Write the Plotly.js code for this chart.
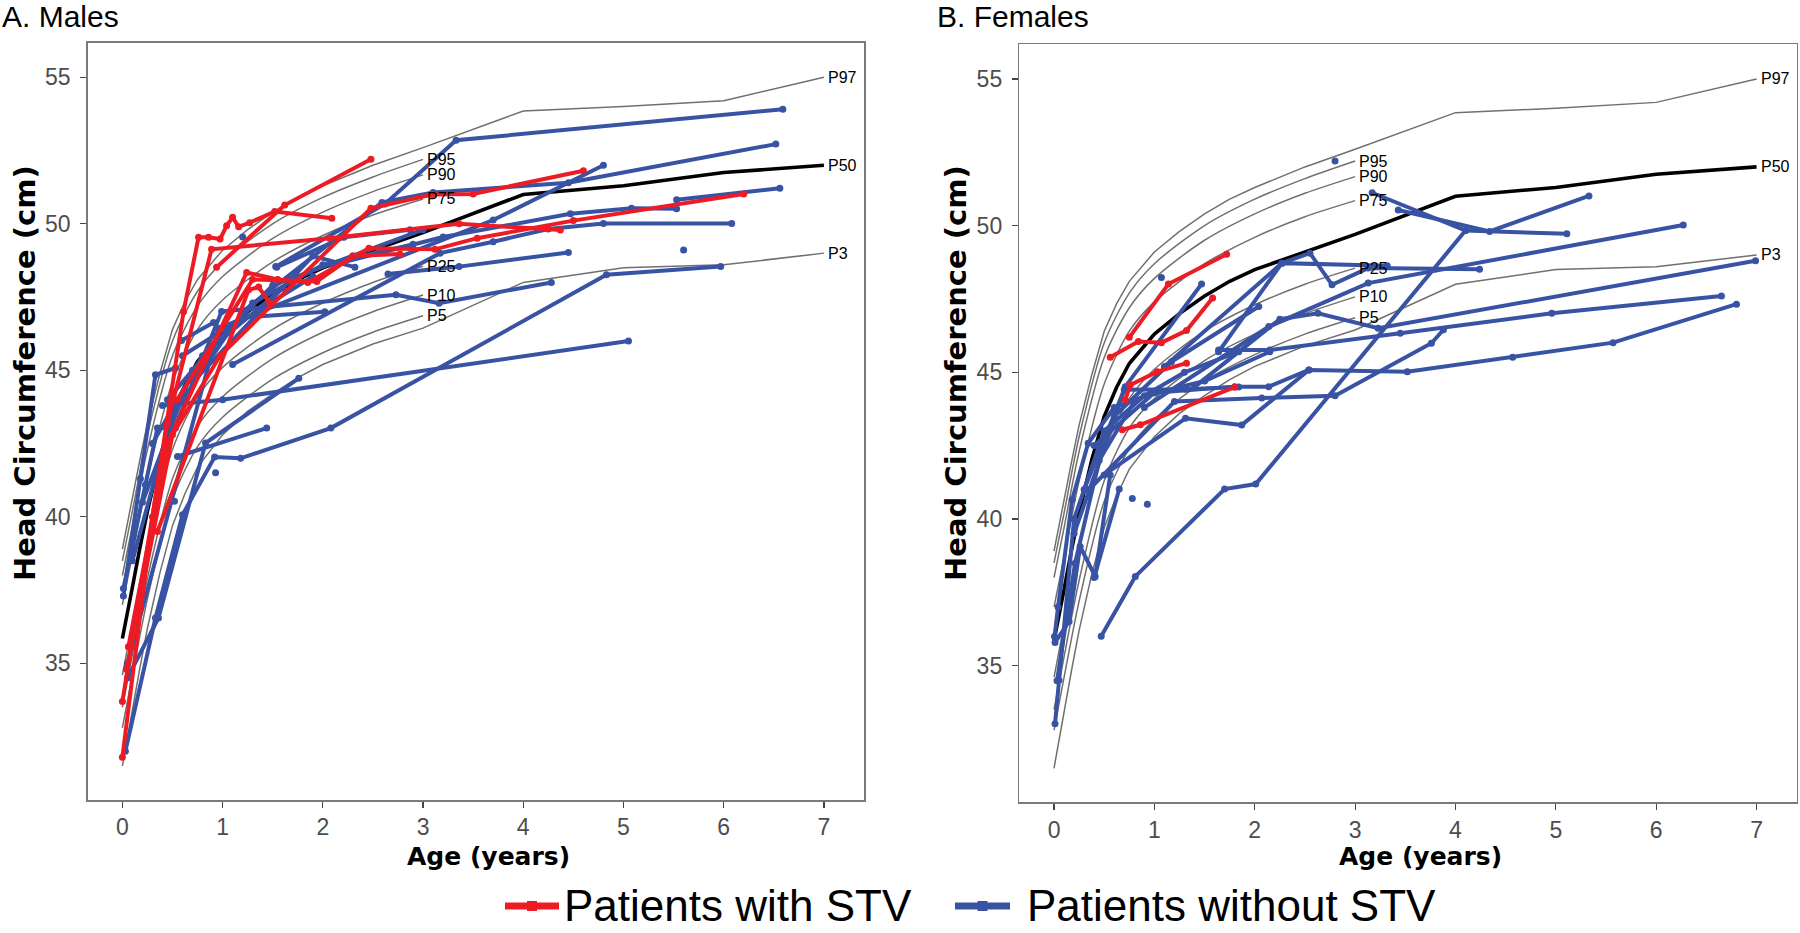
<!DOCTYPE html>
<html>
<head>
<meta charset="utf-8">
<script src="https://cdn.plot.ly/plotly-3.0.1.min.js"></script>
<style>html,body{margin:0;padding:0;background:#fff;}#chart{width:1800px;height:933px;}</style>
</head>
<body>
<div id="chart"></div>
<script>
// ---------- tick labels ----------
const ageTicks = [0, 1, 2, 3, 4, 5, 6, 7];
const hcTicks = [35, 40, 45, 50, 55];
const legendLabels = ['Patients with STV', 'Patients without STV'];

// ---------- reference percentile curves (cm) ----------
const refAgesLong  = [0, 0.05, 0.1, 0.175, 0.25, 0.375, 0.5, 0.625, 0.75, 1, 1.25, 1.5, 1.75, 2, 2.5, 3, 4, 5, 6, 7];
const refAgesShort = [0, 0.1, 0.25, 0.5, 0.75, 1, 1.5, 2, 2.5, 3];
const P3  = [31.5, 32.5, 33.4, 34.85, 36.2, 38.1, 39.7, 40.8, 41.7, 42.8, 43.6, 44.2, 44.75, 45.2, 45.9, 46.44, 48.0, 48.5, 48.6, 49.0];
const P5  = [32.8, 34.6, 37.2, 40.6, 42.4, 43.4, 44.7, 45.6, 46.3, 46.86];
const P10 = [33.5, 35.3, 37.9, 41.3, 43.1, 44.1, 45.4, 46.3, 47.0, 47.57];
const P25 = [34.6, 36.4, 39.0, 42.3, 44.1, 45.1, 46.4, 47.3, 48.0, 48.55];
const P50 = [35.85, 36.8, 37.6, 38.95, 40.2, 42.0, 43.5, 44.5, 45.3, 46.3, 47.0, 47.6, 48.1, 48.5, 49.1, 49.7, 51.0, 51.3, 51.75, 52.0];
const P75 = [37.0, 38.7, 41.3, 44.6, 46.4, 47.4, 48.7, 49.6, 50.3, 50.85];
const P90 = [38.0, 39.7, 42.3, 45.5, 47.2, 48.2, 49.5, 50.4, 51.1, 51.67];
const P95 = [38.5, 40.2, 42.8, 46.0, 47.7, 48.7, 50.0, 50.9, 51.6, 52.2];
const P97 = [38.9, 39.8, 40.6, 41.95, 43.2, 44.9, 46.4, 47.35, 48.1, 49.1, 49.8, 50.4, 50.9, 51.3, 52.0, 52.6, 53.85, 54.0, 54.2, 55.0];
const percentileNames = ['P3', 'P5', 'P10', 'P25', 'P50', 'P75', 'P90', 'P95', 'P97'];
const percentileValues = [P3, P5, P10, P25, P50, P75, P90, P95, P97];

// ---------- males, patients with STV ----------
const maleStvAges = [
  [0, 0.3, 0.61, 0.76, 0.86, 0.975, 1.04, 1.10, 1.16, 1.27, 1.52, 2.09],
  [0, 0.45, 0.89, 2.07, 3.36, 4.37],
  [0.94, 1.62, 2.48],
  [0.04, 0.5, 0.975, 2.48, 3.09, 3.5, 4.6],
  [0.06, 0.45, 1.24, 1.55, 1.85, 2.46, 3.12, 3.54, 4.5, 6.2],
  [0.35, 1.26, 1.36, 1.47],
  [0.55, 1.3, 1.94, 2.3, 2.77]
];
const maleStvHC = [
  [31.8, 40.0, 47.0, 49.54, 49.54, 49.48, 49.93, 50.22, 49.9, 50.04, 50.42, 50.19],
  [33.7, 43.2, 49.13, 49.51, 50.0, 49.79],
  [48.52, 50.64, 52.2],
  [34.8, 42.8, 45.5, 50.53, 51.0, 51.02, 51.81],
  [35.57, 42.5, 48.34, 48.1, 48.0, 49.17, 49.13, 49.51, 50.11, 51.02],
  [39.5, 47.75, 47.84, 47.3],
  [44.0, 48.1, 48.03, 48.9, 48.97]
];

// ---------- males, patients without STV ----------
const maleNoStvAges = [
  [1.53, 2.62, 3.33, 6.59],
  [0.05, 0.96, 3.7, 4.8],
  [1.2, 2.59, 3.1, 4.45, 6.52],
  [2.1, 3.2, 4.47, 5.08, 5.53],
  [5.53, 6.56],
  [1.1, 3.17, 3.7, 4.25, 4.8, 6.08],
  [5.6],
  [2.65, 3.36, 4.45],
  [0.03, 0.33, 0.6, 0.92, 1.18, 2.08, 4.83, 5.97],
  [0.55, 1.44],
  [0.4, 1.0, 5.05],
  [0.6, 1.2, 2.02],
  [0.4, 0.99, 2.73, 3.16, 4.28],
  [0.59, 0.91],
  [0.01, 0.18, 0.33, 0.53],
  [0.01, 0.23, 0.35, 0.53],
  [0.05, 0.36, 0.83, 1.76],
  [0.1, 0.5, 1.1, 1.9],
  [0.2, 0.7, 1.3, 2.0, 2.9],
  [0.3, 0.8, 1.5, 2.3, 3.0],
  [0.45, 0.9, 1.6],
  [1.54, 2.21, 2.87],
  [0.7, 1.9, 2.32],
  [0.52],
  [0.93],
  [1.2]
];
const maleNoStvHC = [
  [48.54, 50.68, 52.85, 53.91],
  [35.0, 46.44, 50.13, 52.0],
  [47.0, 50.73, 51.07, 51.4, 52.72],
  [48.6, 49.55, 50.34, 50.53, 50.51],
  [50.82, 51.21],
  [45.2, 49.0, 49.39, 49.82, 50.01, 50.01],
  [49.11],
  [48.29, 48.54, 49.02],
  [32.0, 36.55, 40.07, 42.04, 42.0, 43.03, 48.26, 48.54],
  [42.06, 43.03],
  [43.8, 44.0, 46.0],
  [45.5, 46.8, 47.0],
  [42.0, 47.01, 47.58, 47.29, 48.0],
  [46.02, 46.63],
  [37.3, 41.3, 44.85, 45.08],
  [37.56, 41.1, 43.03, 43.03],
  [34.5, 36.55, 42.52, 44.73],
  [38.5, 43.5, 46.5, 48.2],
  [40.5, 45.0, 47.3, 48.6, 49.3],
  [42.5, 45.5, 47.9, 48.9, 49.8],
  [44.0, 45.8, 47.8],
  [48.52, 49.54, 49.8],
  [44.6, 48.9, 48.52],
  [40.53],
  [41.51],
  [49.55]
];

// ---------- females, patients with STV ----------
const femaleStvAges = [
  [0.75, 1.14, 1.72],
  [0.56, 0.84, 1.07, 1.32, 1.58],
  [0.71, 0.76, 1.03, 1.32],
  [0.68, 0.86, 1.8]
];
const femaleStvHC = [
  [46.19, 48.01, 49.02],
  [45.51, 46.05, 46.01, 46.42, 47.53],
  [44.06, 44.57, 45.02, 45.31],
  [43.04, 43.21, 44.49]
];

// ---------- females, patients without STV ----------
const femaleNoStvAges = [
  [2.8],
  [1.07],
  [3.17, 4.1, 5.11],
  [3.43, 4.34, 5.33],
  [0.47, 0.81, 1.7, 2.01, 4.1],
  [1.1, 2.27, 2.55, 2.77, 3.13, 4.24],
  [1.64, 2.27, 3.32],
  [0.9, 2.14, 3.13, 6.27],
  [1.4, 2.25, 2.63, 3.23, 6.99],
  [1.64, 2.15, 3.45, 4.96, 6.65],
  [0.5, 1.31, 1.87, 2.54, 3.52, 4.57, 5.57, 6.8],
  [0.005, 0.04, 0.18, 0.34, 0.6, 1.0],
  [0.01, 0.15, 0.26, 0.41, 0.56],
  [0.03, 0.21, 0.45, 0.8, 1.3, 1.84],
  [0.01, 0.05, 0.2, 0.5, 0.9, 1.5, 2.15],
  [0.4, 0.65],
  [0.3, 0.71, 1.47],
  [0.6, 1.17, 2.04],
  [0.35, 1.2, 2.07, 2.8, 3.76, 3.88],
  [0.4, 1.0, 1.8, 2.14, 2.54],
  [0.2, 0.7, 1.31, 1.84],
  [0.93],
  [0.78]
];
const femaleNoStvHC = [
  [52.2],
  [48.23],
  [51.12, 49.83, 49.72],
  [50.53, 49.8, 51.01],
  [36.0, 38.04, 41.02, 41.19, 49.83],
  [45.2, 48.72, 49.06, 47.98, 48.55, 48.51],
  [45.7, 48.72, 48.63],
  [43.8, 46.56, 48.04, 50.02],
  [44.5, 46.81, 47.01, 46.5, 48.8],
  [45.76, 45.76, 46.33, 47.01, 47.6],
  [41.5, 43.43, 43.2, 45.08, 45.02, 45.51, 46.01, 47.32],
  [35.99, 37.0, 40.65, 42.58, 43.8, 44.3],
  [35.79, 36.5, 39.06, 38.04, 41.5],
  [34.48, 38.49, 42.0, 44.0, 45.0, 45.7],
  [33.02, 34.5, 40.0, 43.0, 44.2, 44.7, 45.7],
  [38.0, 41.02],
  [41.0, 44.51, 48.01],
  [43.5, 45.36, 47.24],
  [41.0, 44.0, 44.12, 44.2, 45.99, 46.45],
  [42.5, 44.3, 44.51, 44.51, 45.08],
  [39.5, 44.4, 44.42, 44.5],
  [40.5],
  [40.7]
];

// ---------- styling ----------
const RED = '#ED1C24';
const BLUE = '#3953A4';
const W = 1800, H = 933;
const traces = [];
const annotations = [];
const shapes = [];

function addPanel(xa, ya, noAges, noHC, stvAges, stvHC) {
  percentileValues.forEach((vals, i) => {
    const isLong = vals.length === refAgesLong.length;
    const ages = isLong ? refAgesLong : refAgesShort;
    const isMed = percentileNames[i] === 'P50';
    traces.push({
      x: ages, y: vals, xaxis: xa, yaxis: ya, type: 'scatter', mode: 'lines',
      line: isLong
        ? {color: isMed ? '#000000' : '#707070', width: isMed ? 3.6 : 1.5, shape: 'linear'}
        : {color: '#707070', width: 1.5, shape: 'spline', smoothing: 0.8},
      hoverinfo: 'skip', showlegend: false
    });
    annotations.push({
      x: ages[ages.length - 1], y: vals[vals.length - 1], xref: xa, yref: ya,
      text: percentileNames[i], showarrow: false, xanchor: 'left', yanchor: 'middle', xshift: 2,
      font: {family: 'Liberation Sans, Arial, sans-serif', size: 16, color: '#000'}
    });
  });
  noAges.forEach((a, i) => {
    traces.push({
      x: a, y: noHC[i], xaxis: xa, yaxis: ya, type: 'scatter', mode: 'lines+markers',
      line: {color: BLUE, width: 4}, marker: {color: BLUE, size: 7},
      name: legendLabels[1], showlegend: false
    });
  });
  stvAges.forEach((a, i) => {
    traces.push({
      x: a, y: stvHC[i], xaxis: xa, yaxis: ya, type: 'scatter', mode: 'lines+markers',
      line: {color: RED, width: 4}, marker: {color: RED, size: 7},
      name: legendLabels[0], showlegend: false
    });
  });
}

addPanel('x', 'y', maleNoStvAges, maleNoStvHC, maleStvAges, maleStvHC);
addPanel('x2', 'y2', femaleNoStvAges, femaleNoStvHC, femaleStvAges, femaleStvHC);

const tickFont = {family: 'Liberation Sans, Arial, sans-serif', size: 23, color: '#4d4d4d'};
function xAxis(domain, anchor) {
  return {domain: domain, anchor: anchor, range: [-0.345, 7.40], tickvals: ageTicks,
    ticktext: ageTicks.map(String), ticks: 'outside', ticklen: 6, tickwidth: 1.2, tickcolor: '#444',
    showline: true, mirror: true, linecolor: '#7a7a7a', linewidth: 1.6, showgrid: false,
    zeroline: false, tickfont: tickFont, fixedrange: true};
}
function yAxis(domain, anchor) {
  return {domain: domain, anchor: anchor, range: [30.34, 56.18], tickvals: hcTicks,
    ticktext: hcTicks.map(String), ticks: 'outside', ticklen: 6, tickwidth: 1.2, tickcolor: '#444',
    ticklabelstandoff: 5,
    showline: true, mirror: true, linecolor: '#7a7a7a', linewidth: 1.6, showgrid: false,
    zeroline: false, tickfont: tickFont, fixedrange: true};
}

const px = v => v / W;
const py = v => 1 - v / H;
const titleFont = {family: 'Liberation Sans, Arial, sans-serif', size: 30, color: '#000'};
const axTitleFont = {family: 'DejaVu Sans, Verdana, sans-serif', size: 25, color: '#000', weight: 700};
const yTitleFont = {family: 'DejaVu Sans, Verdana, sans-serif', size: 29, color: '#000', weight: 700};
const legFont = {family: 'Liberation Sans, Arial, sans-serif', size: 44, color: '#000'};
annotations.push(
  {x: 0.0, y: py(17), xref: 'paper', yref: 'paper', xanchor: 'left', yanchor: 'middle',
   text: 'A. Males', showarrow: false, font: titleFont},
  {x: px(935), y: py(17), xref: 'paper', yref: 'paper', xanchor: 'left', yanchor: 'middle',
   text: 'B. Females', showarrow: false, font: titleFont},
  {x: px(488), y: py(856), xref: 'paper', yref: 'paper', xanchor: 'center', yanchor: 'middle',
   text: 'Age (years)', showarrow: false, font: axTitleFont},
  {x: px(1420), y: py(856), xref: 'paper', yref: 'paper', xanchor: 'center', yanchor: 'middle',
   text: 'Age (years)', showarrow: false, font: axTitleFont},
  {x: px(25), y: py(373), xref: 'paper', yref: 'paper', xanchor: 'center', yanchor: 'middle',
   text: 'Head Circumference (cm)', textangle: -90, showarrow: false, font: yTitleFont},
  {x: px(956), y: py(373), xref: 'paper', yref: 'paper', xanchor: 'center', yanchor: 'middle',
   text: 'Head Circumference (cm)', textangle: -90, showarrow: false, font: yTitleFont},
  // legend labels
  {x: px(562), y: py(905), xref: 'paper', yref: 'paper', xanchor: 'left', yanchor: 'middle',
   text: legendLabels[0], showarrow: false, font: legFont},
  {x: px(1025), y: py(905), xref: 'paper', yref: 'paper', xanchor: 'left', yanchor: 'middle',
   text: legendLabels[1], showarrow: false, font: legFont}
);

// legend keys (line + square marker)
const keyY = 906;
[[505, 559, RED], [955, 1010, BLUE]].forEach(([a, b, c]) => {
  shapes.push({type: 'line', xref: 'paper', yref: 'paper', x0: px(a), x1: px(b), y0: py(keyY), y1: py(keyY),
    line: {color: c, width: 7}});
  const m = (a + b) / 2;
  shapes.push({type: 'rect', xref: 'paper', yref: 'paper', x0: px(m - 5), x1: px(m + 5), y0: py(keyY + 5), y1: py(keyY - 5),
    line: {color: c, width: 0}, fillcolor: c});
});

const layout = {
  width: W, height: H,
  margin: {l: 0, r: 0, t: 0, b: 0, pad: 0},
  paper_bgcolor: '#ffffff', plot_bgcolor: '#ffffff',
  showlegend: false,
  xaxis: xAxis([px(87.8), px(864)], 'y'),
  yaxis: yAxis([py(800), py(42.7)], 'x'),
  xaxis2: xAxis([px(1019.4), px(1796.7)], 'y2'),
  yaxis2: yAxis([py(802.3), py(44.3)], 'x2'),
  annotations: annotations,
  shapes: shapes,
  hovermode: false
};

Plotly.newPlot('chart', traces, layout, {displayModeBar: false, staticPlot: true});
</script>
</body>
</html>
